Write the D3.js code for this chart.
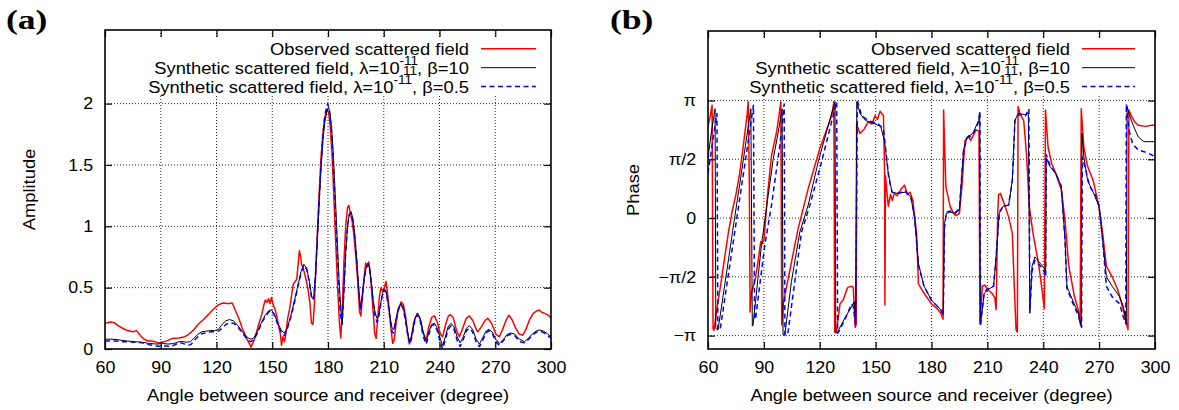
<!DOCTYPE html>
<html><head><meta charset="utf-8">
<script src="https://cdn.jsdelivr.net/npm/d3@7"></script>
<style>body{margin:0;background:#fff} svg{display:block}</style>
</head><body>
<svg id="c" width="1179" height="410"></svg>
<script>
// ---------------- data ----------------
const xTicks = [60, 90, 120, 150, 180, 210, 240, 270, 300];
const ampTicks = [0, 0.5, 1, 1.5, 2];
const ampTickLabels = ["0", "0.5", "1", "1.5", "2"];
const phaseTicks = [-1, -0.5, 0, 0.5, 1];            // multiples of π
const phaseTickLabels = ["−π", "−π/2", "0", "π/2", "π"];
const xLabel = "Angle between source and receiver (degree)";
const seriesNames = ["Observed scattered field", "Synthetic scattered field, λ=10", "Synthetic scattered field, λ=10"];

// amplitude, [angle (deg), amplitude]
const ampObserved = [[60,0.21],[63,0.22],[65,0.215],[67,0.19],[70,0.165],[72,0.15],[75,0.14],[77,0.15],[79,0.11],[81,0.08],[83,0.065],[85,0.065],[87,0.06],[88.7,0.048],[90,0.055],[92,0.06],[94,0.07],[96,0.085],[100,0.09],[103,0.1],[105,0.12],[106.6,0.14],[108,0.16],[110,0.2],[113,0.24],[115.6,0.28],[118,0.32],[121,0.36],[123.5,0.375],[125.5,0.37],[127,0.37],[128.5,0.375],[130,0.32],[132,0.25],[133.6,0.18],[135.5,0.11],[137.1,0.06],[138.6,0.015],[140.7,0.09],[142.5,0.19],[144.3,0.28],[145.5,0.36],[146.3,0.40],[147.2,0.38],[148,0.41],[148.8,0.37],[149.6,0.42],[150.5,0.36],[151.4,0.33],[152.4,0.27],[153.3,0.2],[154.4,0.12],[155,0.03],[155.8,0.1],[156.6,0.06],[157.4,0.13],[158.3,0.25],[159.5,0.34],[160.5,0.45],[161.4,0.53],[162.3,0.55],[163.2,0.57],[164,0.7],[164.6,0.8],[165.2,0.76],[165.8,0.69],[166.6,0.66],[167.3,0.62],[168.3,0.56],[169.3,0.48],[170.3,0.37],[171.1,0.21],[171.9,0.2],[172.6,0.34],[173.3,0.6],[174.2,0.92],[175.2,1.25],[176.2,1.55],[177.2,1.75],[178.2,1.88],[179.3,1.95],[180.3,1.93],[181.2,1.82],[182.2,1.58],[183.2,1.22],[184.2,0.85],[185.2,0.5],[186.2,0.2],[186.9,0.09],[187.6,0.3],[188.6,0.72],[189.6,1.02],[190.5,1.15],[191.2,1.17],[192,1.11],[193,1.04],[194,0.92],[195,0.75],[196,0.55],[197,0.3],[197.7,0.27],[198.5,0.42],[199.4,0.58],[200.3,0.70],[201.1,0.67],[201.9,0.71],[202.7,0.63],[203.5,0.47],[204.3,0.3],[205.1,0.13],[205.9,0.087],[206.7,0.24],[207.6,0.42],[208.5,0.5],[209.4,0.47],[210.3,0.5],[211.2,0.55],[212,0.46],[212.8,0.34],[213.7,0.19],[214.8,0.046],[215.6,0.07],[216.5,0.19],[217.6,0.31],[219.4,0.385],[220.6,0.36],[221.8,0.26],[222.9,0.12],[223.8,0.04],[224.8,0.09],[226.2,0.22],[227.9,0.29],[229.5,0.25],[231.1,0.14],[232.8,0.07],[234.4,0.19],[235.9,0.26],[237.3,0.27],[239,0.21],[240.5,0.12],[241.7,0.1],[243.3,0.2],[244.8,0.27],[245.9,0.28],[247.5,0.25],[249.2,0.15],[250.7,0.1],[252.5,0.17],[254.4,0.25],[256.1,0.27],[258,0.23],[259.5,0.17],[260.6,0.14],[262.5,0.18],[264.4,0.23],[266,0.25],[268,0.21],[270.4,0.12],[272.2,0.1],[274,0.16],[276,0.24],[277.3,0.275],[279,0.24],[281,0.17],[283,0.12],[284.8,0.114],[286.5,0.16],[288.5,0.24],[290.5,0.29],[292.3,0.31],[293.7,0.318],[295,0.3],[296.5,0.29],[298,0.28],[299,0.27],[300,0.25]];
const ampBeta10 = [[60,0.079],[63,0.08],[66,0.078],[69,0.07],[72,0.065],[76,0.06],[80,0.055],[84,0.045],[88,0.04],[91,0.045],[94,0.04],[97,0.045],[100,0.06],[102,0.06],[104,0.055],[106,0.06],[108,0.09],[110,0.12],[112,0.14],[114,0.145],[117,0.15],[119,0.15],[121,0.16],[123,0.2],[125,0.23],[127,0.24],[129,0.23],[131,0.2],[133,0.16],[135,0.12],[137,0.09],[138.5,0.08],[140,0.09],[142,0.14],[144,0.21],[146,0.27],[148,0.31],[149.5,0.32],[151,0.29],[153,0.21],[155,0.15],[156.5,0.13],[158,0.17],[160,0.27],[162,0.4],[164,0.53],[165.5,0.63],[167,0.69],[168.5,0.66],[170,0.55],[171.3,0.42],[172.3,0.42],[173.3,0.6],[174.3,0.9],[175.3,1.2],[176.3,1.48],[177.3,1.7],[178.3,1.85],[179.4,1.94],[180.3,1.97],[181,1.93],[182,1.8],[183,1.55],[184,1.22],[185,0.88],[186,0.55],[187,0.3],[187.7,0.22],[188.5,0.45],[189.5,0.78],[190.5,1.0],[191.5,1.1],[192.4,1.12],[193.3,1.07],[194.3,0.95],[195.3,0.77],[196.3,0.55],[197.4,0.34],[198.3,0.42],[199.3,0.56],[200.5,0.66],[201.5,0.7],[202.3,0.66],[203.3,0.55],[204.3,0.4],[205.3,0.3],[206.3,0.25],[207.1,0.26],[208.2,0.36],[209.3,0.45],[210.3,0.49],[211.3,0.47],[212.3,0.38],[213.5,0.25],[214.5,0.17],[215.3,0.155],[216.5,0.24],[217.8,0.33],[219.2,0.37],[220.5,0.34],[222,0.22],[223.3,0.1],[224.2,0.06],[225.3,0.13],[226.8,0.25],[228.3,0.29],[229.8,0.24],[231.3,0.13],[232.8,0.06],[234.3,0.14],[235.8,0.2],[237.3,0.21],[238.8,0.17],[240.5,0.08],[241.7,0.03],[243,0.09],[244.6,0.18],[246.2,0.21],[247.8,0.18],[249.5,0.1],[251.1,0.05],[252.8,0.1],[254.5,0.17],[256.1,0.19],[257.8,0.16],[259.7,0.08],[261.5,0.04],[263.5,0.1],[265,0.145],[266.5,0.16],[268.3,0.14],[270.3,0.08],[272.2,0.046],[274.5,0.08],[276.5,0.12],[278.5,0.13],[280.5,0.12],[283,0.08],[285.7,0.06],[288,0.09],[290.5,0.13],[292.5,0.15],[294,0.155],[296,0.145],[298,0.125],[300,0.1]];
const ampBeta05 = [[60,0.065],[63,0.066],[66,0.065],[69,0.06],[72,0.058],[76,0.055],[80,0.05],[84,0.035],[87,0.025],[90,0.022],[93,0.025],[95,0.02],[97,0.03],[99,0.045],[101,0.05],[103,0.04],[105,0.03],[106.5,0.04],[108,0.07],[110,0.1],[112,0.125],[114,0.13],[117,0.14],[119,0.14],[121,0.145],[123,0.17],[125,0.2],[127,0.215],[129,0.21],[131,0.19],[133,0.15],[135,0.11],[137,0.07],[138.5,0.06],[140,0.075],[142,0.13],[144,0.2],[146,0.26],[148,0.3],[149.5,0.315],[151,0.28],[153,0.2],[155,0.13],[156.5,0.11],[158,0.16],[160,0.26],[162,0.38],[164,0.52],[165.5,0.62],[167,0.68],[168.5,0.65],[170,0.54],[171.3,0.4],[172.3,0.41],[173.3,0.6],[174.3,0.92],[175.3,1.24],[176.3,1.52],[177.3,1.74],[178.3,1.9],[179.3,1.98],[179.9,2.0],[180.7,1.95],[181.7,1.8],[182.7,1.56],[183.7,1.22],[184.7,0.88],[185.7,0.55],[186.7,0.28],[187.6,0.2],[188.5,0.45],[189.5,0.78],[190.5,1.0],[191.5,1.1],[192.4,1.11],[193.3,1.05],[194.3,0.93],[195.3,0.75],[196.3,0.52],[197.4,0.32],[198.3,0.4],[199.3,0.55],[200.5,0.66],[201.5,0.69],[202.3,0.65],[203.3,0.53],[204.3,0.38],[205.3,0.27],[206.3,0.22],[207.1,0.24],[208.2,0.35],[209.3,0.44],[210.3,0.48],[211.3,0.46],[212.3,0.37],[213.5,0.23],[214.5,0.14],[215.3,0.13],[216.5,0.22],[217.8,0.32],[219.2,0.36],[220.5,0.33],[222,0.2],[223.3,0.08],[224.2,0.04],[225.3,0.11],[226.8,0.24],[228.3,0.28],[229.8,0.22],[231.3,0.1],[232.8,0.04],[234.3,0.12],[235.8,0.19],[237.3,0.2],[238.8,0.15],[240.5,0.05],[241.7,0.0],[243,0.07],[244.6,0.16],[246.2,0.19],[247.8,0.16],[249.5,0.07],[251.1,0.02],[252.8,0.08],[254.5,0.15],[256.1,0.17],[257.8,0.14],[259.7,0.06],[261.5,0.02],[263.5,0.08],[265,0.13],[266.5,0.15],[268.3,0.13],[270.3,0.06],[272.2,0.03],[274.5,0.07],[276.5,0.11],[278.5,0.12],[280.5,0.11],[283,0.06],[285.7,0.05],[288,0.08],[290.5,0.12],[292.5,0.14],[294,0.145],[296,0.135],[298,0.11],[300,0.09]];

// phase, [angle (deg), phase in multiples of π]
const phaseObserved = [[60,0.78],[61,0.85],[62.2,0.96],[62.7,-0.94],[63.2,-0.955],[65,-0.75],[67,-0.55],[69,-0.33],[71,-0.12],[73,0.06],[75,0.2],[77,0.38],[79,0.62],[81,0.88],[81.6,0.99],[82.2,0.3],[82.6,-0.8],[83.3,-0.63],[85.1,-0.54],[86.9,-0.37],[88.3,-0.2],[89,-0.22],[90.1,-0.18],[91.9,0.19],[94.1,0.53],[96.8,0.73],[98.2,0.88],[99.1,0.99],[99.6,-0.91],[100.5,-0.72],[103,-0.52],[108.4,-0.09],[113.8,0.25],[120,0.59],[126.4,0.87],[127.6,0.99],[128,-0.97],[129,-0.96],[130.9,-0.73],[132.5,-0.7],[135,-0.59],[137.1,-0.58],[138,-0.59],[139,-0.93],[139.6,-0.9],[139.8,0.8],[141.6,0.72],[144,0.76],[146.1,0.82],[148,0.8],[149.7,0.87],[151,0.84],[152.4,0.91],[154.2,0.87],[154.8,0.4],[155,-0.74],[155.3,0.36],[156.8,0.1],[158,0.2],[159,0.15],[160,0.21],[161.5,0.19],[163.8,0.25],[165.5,0.28],[167,0.2],[168.5,0.22],[170,0.15],[171,0.0],[172,-0.13],[173,-0.56],[176,-0.64],[180,-0.73],[183,-0.77],[185,-0.81],[186.2,-0.86],[186.5,0.92],[187.7,0.27],[190,0.1],[191.5,0.05],[193,0.02],[195,0.04],[196.5,0.3],[198,0.66],[200,0.7],[201,0.66],[202,0.69],[204,0.75],[205.5,0.74],[206,-0.9],[207.3,-0.58],[208.5,-0.57],[210.3,-0.61],[212.5,-0.64],[214,-0.68],[214.7,-0.78],[215.5,0.0],[216,0.2],[217,0.21],[218.4,0.15],[221.4,0.01],[223.4,-0.13],[224.4,-0.56],[225.4,-0.95],[226.1,-0.97],[226.5,0.95],[227.5,0.89],[229.5,0.83],[231,0.55],[232.5,0.1],[234.5,-0.13],[237.5,-0.39],[239.6,-0.64],[240.6,-0.77],[241.2,0.92],[242.6,0.6],[244.6,0.46],[246.7,0.38],[249.7,0.24],[251.7,-0.02],[253.7,-0.41],[256.8,-0.67],[258.8,-0.78],[259.8,-0.9],[260.4,0.93],[261.8,0.6],[263.8,0.44],[266.8,0.32],[269.9,0.1],[271.9,-0.13],[273.9,-0.41],[277,-0.5],[280,-0.61],[283,-0.78],[285.5,-0.95],[286,0.92],[287,0.88],[289,0.82],[291,0.79],[295,0.78],[298,0.79],[300,0.79]];
const phaseBeta10 = [[60,0.52],[62,0.75],[63.8,0.93],[64.2,-0.94],[65.4,-0.95],[70,-0.46],[74,-0.03],[78,0.39],[83,0.93],[83.8,-0.92],[84.2,-0.91],[88.7,-0.23],[92.3,0.19],[95,0.5],[97.7,0.73],[99.8,0.93],[100.3,-0.99],[101.3,-0.99],[104.8,-0.54],[109.3,-0.12],[113.8,0.11],[119.2,0.48],[124.6,0.79],[128.2,0.99],[128.6,-0.98],[129.5,-0.97],[133.5,-0.85],[137.6,-0.74],[138.6,-0.71],[139.2,-0.91],[139.9,0.99],[141.6,0.89],[144.6,0.83],[149.7,0.8],[152.7,0.78],[154.7,0.66],[156.8,0.38],[158.8,0.22],[161.8,0.21],[165.9,0.22],[168.9,0.18],[170.9,0.01],[173,-0.39],[176,-0.58],[180,-0.7],[185,-0.78],[186.3,-0.82],[187,-0.05],[188,0.04],[190,0.05],[193,0.04],[195,0.07],[197.2,0.58],[199.2,0.69],[202.2,0.72],[205.3,0.83],[205.9,0.9],[206.3,-0.91],[208.3,-0.64],[210.3,-0.61],[213.3,-0.58],[214.3,-0.41],[216.4,0.04],[218.4,0.1],[221.4,0.11],[223.4,0.32],[224.8,0.83],[226.5,0.89],[230.5,0.88],[232,0.89],[232.8,-0.81],[234,-0.41],[235.5,-0.33],[238.6,-0.39],[240.6,-0.43],[241.3,-0.47],[241.6,0.51],[243.6,0.44],[246.7,0.38],[249.7,0.27],[251.7,-0.19],[252.7,-0.58],[255.8,-0.7],[258.8,-0.81],[260.4,-0.92],[260.8,0.72],[261.8,0.52],[263.8,0.32],[266.8,0.22],[269.9,0.1],[271.9,-0.19],[273.9,-0.5],[277,-0.58],[281,-0.67],[283,-0.75],[284.6,-0.9],[285,0.95],[286,0.89],[288,0.8],[291,0.69],[294,0.65],[300,0.65]];
const phaseBeta05 = [[60,0.38],[62.5,0.65],[64.8,0.89],[65.3,-0.95],[66.5,-0.95],[70,-0.58],[75,-0.05],[80,0.48],[84.4,0.96],[85,-0.86],[85.5,-0.86],[90.5,-0.23],[94.1,0.11],[98.6,0.62],[100.9,0.97],[101.3,-1.0],[103,-0.97],[106.6,-0.54],[110.2,-0.12],[114.7,0.11],[121,0.48],[126.4,0.82],[129.1,0.99],[129.6,-0.98],[130.5,-0.96],[133.6,-0.86],[137.1,-0.73],[138,-0.75],[139.3,-0.91],[140.2,1.0],[142.5,0.87],[146.1,0.83],[151.5,0.8],[154.2,0.76],[156,0.5],[157,0.35],[158.8,0.22],[161.8,0.21],[165.9,0.23],[168.9,0.18],[170.9,0.01],[173,-0.4],[176,-0.58],[180,-0.7],[185,-0.78],[186.3,-0.83],[187,-0.08],[188,0.05],[190,0.06],[193,0.05],[195,0.08],[197.2,0.58],[199.2,0.68],[202.2,0.71],[205.3,0.82],[206,0.91],[206.3,-0.91],[208.3,-0.63],[210.3,-0.6],[213.3,-0.58],[214.3,-0.41],[216.4,0.05],[218.4,0.1],[221.4,0.11],[223.4,0.32],[224.8,0.83],[226.5,0.88],[230.5,0.87],[232.3,0.93],[232.8,-0.78],[234,-0.45],[235.5,-0.36],[238.6,-0.41],[240.6,-0.46],[241.3,-0.5],[241.6,0.54],[243.6,0.45],[246.7,0.38],[249.7,0.27],[251.7,-0.19],[252.7,-0.6],[255.8,-0.72],[258.8,-0.83],[260.6,-0.93],[261,0.52],[262.8,0.41],[264.9,0.27],[267.9,0.2],[270,0.1],[271.9,-0.19],[273.9,-0.58],[277,-0.67],[281,-0.73],[283,-0.84],[284.3,-0.9],[284.6,0.97],[286,0.75],[288,0.63],[291,0.58],[295,0.56],[298,0.54],[300,0.52]];

// ---------------- drawing ----------------
const SANS = "'Liberation Sans', Arial, Helvetica, sans-serif";
const SERIF = "'Liberation Serif', 'Times New Roman', serif";
const SX = 1.08;
const svg = d3.select("#c");
svg.append("rect").attr("width",1179).attr("height",410).attr("fill","#fff");

const styles = [
  {color:"#ff0000", width:1.5, dash:null},
  {color:"#000000", width:1.0, dash:null},
  {color:"#0000ff", width:1.5, dash:"5,3.5"}
];

function panel(cfg) {
  const g = svg.append("g");
  const x = d3.scaleLinear([60, 300], [cfg.x0, cfg.x1]);
  const y = d3.scaleLinear(cfg.ydom, [349, cfg.ytop]);
  const [yb, yt] = y.range();

  // panel letter
  g.append("g").attr("transform", `translate(${cfg.letterX},28.5) scale(1.27,1)`)
    .append("text").attr("font-family", SERIF).attr("font-weight", "bold")
    .attr("font-size", 28).attr("fill", "#000").text(cfg.letter);

  // grid
  const grid = g.append("g").attr("stroke", "#111").attr("stroke-width", 0.9).attr("stroke-dasharray", "1,2");
  grid.selectAll("line.v").data(xTicks.slice(1, -1)).join("line").attr("class","v")
    .attr("x1", d => x(d)).attr("x2", d => x(d)).attr("y1", yb).attr("y2", yt);
  grid.selectAll("line.h").data(cfg.gridY).join("line").attr("class","h")
    .attr("x1", cfg.x0).attr("x2", cfg.x1).attr("y1", d => y(d)).attr("y2", d => y(d));

  // data
  const clipId = "clip" + cfg.letter.replace(/\W/g, "");
  svg.append("clipPath").attr("id", clipId).append("rect")
    .attr("x", cfg.x0).attr("y", yt).attr("width", cfg.x1 - cfg.x0).attr("height", yb - yt);
  const line = d3.line().x(d => x(d[0])).y(d => y(d[1]));
  const dg = g.append("g").attr("clip-path", `url(#${clipId})`);
  cfg.series.forEach((s, i) => {
    dg.append("path").attr("d", line(s)).attr("fill", "none")
      .attr("stroke", styles[i].color).attr("stroke-width", styles[i].width)
      .attr("stroke-dasharray", styles[i].dash).attr("stroke-linejoin", "round");
  });

  // axes (ticks inward, mirrored)
  const styleAxis = (a) => {
    a.select(".domain").remove();
    a.selectAll("line").attr("stroke", "#000").attr("stroke-width", 1.2);
    a.selectAll("text").attr("font-family", SANS).attr("font-size", 16.5).attr("fill", "#000")
      .attr("transform", `scale(${SX},1)`);
  };
  g.append("g").attr("transform", `translate(0,${yb})`)
    .call(d3.axisBottom(x).tickValues(xTicks).tickSizeInner(-7).tickSizeOuter(0).tickPadding(12.3))
    .call(styleAxis);
  g.append("g").attr("transform", `translate(0,${yt})`)
    .call(d3.axisTop(x).tickValues(xTicks).tickSizeInner(-7).tickSizeOuter(0).tickFormat(""))
    .call(styleAxis);
  g.append("g").attr("transform", `translate(${cfg.x0},0)`)
    .call(d3.axisLeft(y).tickValues(cfg.yTicks).tickFormat((d, i) => cfg.yLabels[i])
      .tickSizeInner(-7).tickSizeOuter(0).tickPadding(11))
    .call(styleAxis);
  g.append("g").attr("transform", `translate(${cfg.x1},0)`)
    .call(d3.axisRight(y).tickValues(cfg.yTicks).tickSizeInner(-7).tickSizeOuter(0).tickFormat(""))
    .call(styleAxis);

  // frame
  g.append("rect").attr("x", cfg.x0).attr("y", yt).attr("width", cfg.x1 - cfg.x0).attr("height", yb - yt)
    .attr("fill", "none").attr("stroke", "#000").attr("stroke-width", 1.6);

  // axis titles
  g.append("g").attr("transform", `translate(${(cfg.x0 + cfg.x1) / 2},401) scale(${SX},1)`)
    .append("text").attr("font-family", SANS).attr("font-size", 17).attr("text-anchor", "middle")
    .attr("fill", "#000").text(xLabel);
  g.append("g").attr("transform", `translate(${cfg.yTitleX},${(yb + yt) / 2}) rotate(-90) scale(${SX},1)`)
    .append("text").attr("font-family", SANS).attr("font-size", 17).attr("text-anchor", "middle")
    .attr("fill", "#000").text(cfg.yTitle);

  // key (opaque)
  g.append("rect").attr("x", cfg.keyBoxX).attr("y", 39).attr("width", cfg.x1 - 2 - cfg.keyBoxX).attr("height", 57)
    .attr("fill", "#fff");
  const rows = [48.8, 67.7, 86.5];
  rows.forEach((ry, i) => {
    const t = g.append("g").attr("transform", `translate(${cfg.keyTextX},${ry + 6.5}) scale(${SX},1)`)
      .append("text").attr("font-family", SANS).attr("font-size", 17).attr("text-anchor", "end").attr("fill", "#000");
    t.append("tspan").text(seriesNames[i]);
    if (i === 1) {
      t.append("tspan").attr("font-size", 12.5).attr("dy", -9.5).text("-11");
      t.append("tspan").attr("font-size", 12.5).attr("dx", -13.9).attr("dy", 10.5).text("11");
      t.append("tspan").attr("dy", -1).text(", β=10");
    } else if (i === 2) {
      t.append("tspan").attr("font-size", 12.5).attr("dy", -9.5).text("-11");
      t.append("tspan").attr("dy", 9.5).text(", β=0.5");
    }
    g.append("line").attr("x1", cfg.keyL).attr("x2", cfg.keyR).attr("y1", ry).attr("y2", ry)
      .attr("stroke", styles[i].color).attr("stroke-width", styles[i].width)
      .attr("stroke-dasharray", styles[i].dash);
  });
}

panel({
  letter: "(a)", letterX: 6, x0: 105, x1: 551, ydom: [0, 2.6], ytop: 30,
  gridY: [0.5, 1, 1.5, 2], yTicks: ampTicks, yLabels: ampTickLabels,
  series: [ampObserved, ampBeta10, ampBeta05],
  yTitle: "Amplitude", yTitleX: 34.5,
  keyBoxX: 138, keyTextX: 469, keyL: 481, keyR: 536
});
panel({
  letter: "(b)", letterX: 610, x0: 708, x1: 1155, ydom: [-3.5 / Math.PI, 5 / Math.PI], ytop: 31,
  gridY: phaseTicks, yTicks: phaseTicks, yLabels: phaseTickLabels,
  series: [phaseObserved, phaseBeta10, phaseBeta05],
  yTitle: "Phase", yTitleX: 639,
  keyBoxX: 741, keyTextX: 1070, keyL: 1082, keyR: 1135
});
</script>
</body></html>
